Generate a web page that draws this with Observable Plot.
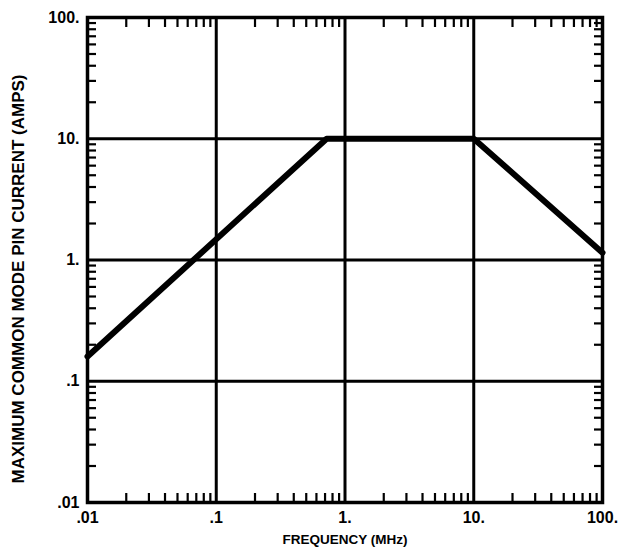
<!DOCTYPE html>
<html>
<head>
<meta charset="utf-8">
<script src="https://cdn.jsdelivr.net/npm/d3@7"></script>
<script src="https://cdn.jsdelivr.net/npm/@observablehq/plot@0.6"></script>
<style>
  html, body { margin: 0; padding: 0; background: #fff; }
  svg { display: block; }
</style>
</head>
<body>
<div id="chart"></div>
<script>
// Decade ticks and their labels
const xTicks = [0.01, 0.1, 1, 10, 100];
const xTickLabels = [".01", ".1", "1.", "10.", "100."];
const yTicks = [0.01, 0.1, 1, 10, 100];
const yTickLabels = [".01", ".1", "1.", "10.", "100."];
// Minor tick multipliers within each decade
const minorMultipliers = [2, 3, 4, 5, 6, 7, 8, 9];
// Curve: frequency (MHz) vs maximum common mode pin current (A)
const frequency = [0.01, 0.72, 10, 100];
const current = [0.16, 10, 10, 1.15];

const minorTicks = xTicks.slice(0, -1).flatMap(d => minorMultipliers.map(m => +(d * m).toPrecision(3)));
const data = frequency.map((f, i) => ({f, c: current[i]}));
const xLab = new Map(xTicks.map((d, i) => [d, xTickLabels[i]]));
const yLab = new Map(yTicks.map((d, i) => [d, yTickLabels[i]]));

const font = "'Liberation Sans', Arial, Helvetica, sans-serif";

const chart = Plot.plot({
  width: 624,
  height: 547,
  marginLeft: 87,
  marginRight: 22,
  marginTop: 17,
  marginBottom: 45,
  style: {fontFamily: font, background: "#fff", color: "#000"},
  x: {type: "log", domain: [0.01, 100]},
  y: {type: "log", domain: [0.01, 100]},
  marks: [
    Plot.ruleX(xTicks, {stroke: "#000", strokeWidth: 3}),
    Plot.ruleY(yTicks, {stroke: "#000", strokeWidth: 3}),
    Plot.axisX(minorTicks, {anchor: "bottom", tickSize: -9, tickFormat: () => "", strokeWidth: 2.2, label: null}),
    Plot.axisX(minorTicks, {anchor: "top", tickSize: -9, tickFormat: () => "", strokeWidth: 2.2, label: null}),
    Plot.axisY(minorTicks, {anchor: "left", tickSize: -9, tickFormat: () => "", strokeWidth: 2.2, label: null}),
    Plot.axisY(minorTicks, {anchor: "right", tickSize: -9, tickFormat: () => "", strokeWidth: 2.2, label: null}),
    Plot.axisX(xTicks, {anchor: "bottom", tickSize: 0, tickPadding: 9, tickFormat: d => xLab.get(d), fontSize: 16, fontWeight: "bold", label: null}),
    Plot.axisY(yTicks, {anchor: "left", tickSize: 0, tickPadding: 8, tickFormat: d => yLab.get(d), fontSize: 16, fontWeight: "bold", label: null}),
    Plot.frame({stroke: "#000", strokeWidth: 3.5}),
    Plot.line(data, {x: "f", y: "c", stroke: "#000", strokeWidth: 6}),
    Plot.text(["FREQUENCY (MHz)"], {frameAnchor: "bottom", dy: 41, fontSize: 13.5, fontWeight: "bold", fill: "#000"}),
    Plot.text(["MAXIMUM COMMON MODE PIN CURRENT (AMPS)"], {frameAnchor: "left", textAnchor: "middle", dx: -69, dy: 19, rotate: -90, fontSize: 17, fontWeight: "bold", fill: "#000", style: "letter-spacing: 2.3px"})
  ]
});
document.getElementById("chart").append(chart);
</script>
</body>
</html>
